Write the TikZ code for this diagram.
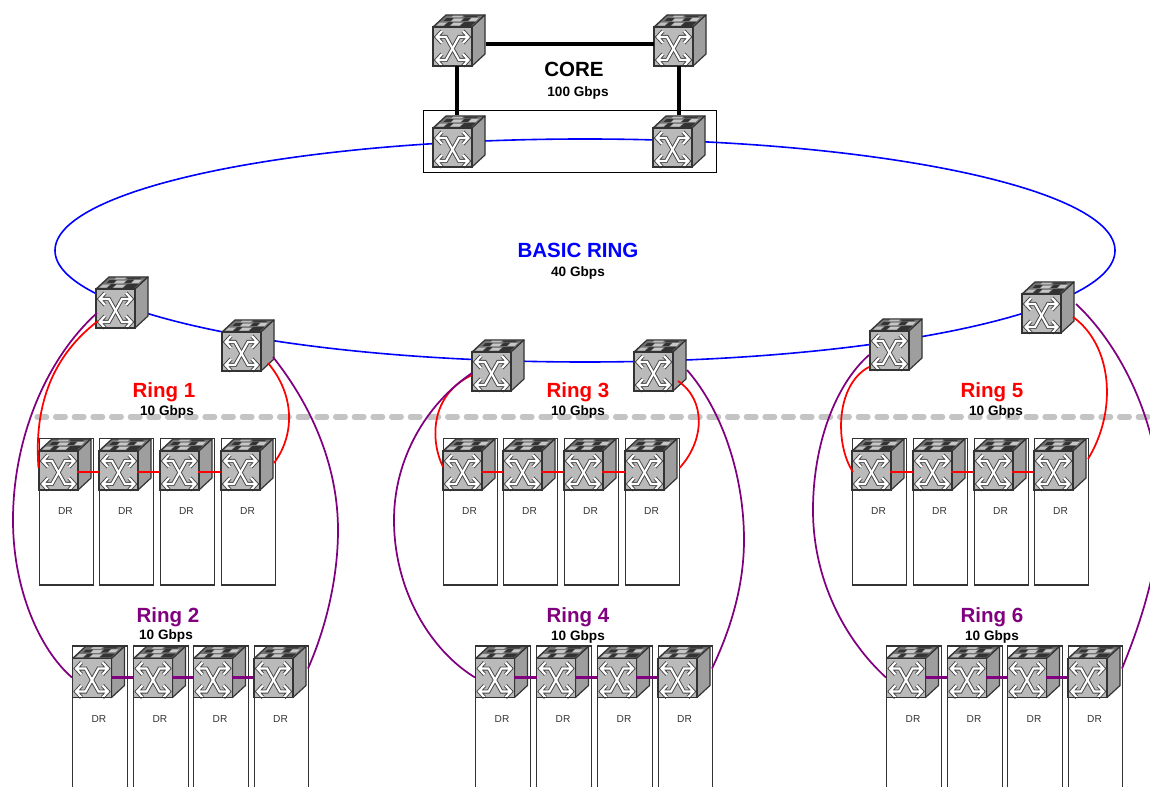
\documentclass[tikz,border=0pt]{standalone}
\usepackage{fontspec}
\setmainfont{Liberation Sans}
\usetikzlibrary{shapes.geometric}
\definecolor{ringpurple}{HTML}{800080}
\definecolor{dashgrey}{HTML}{C4C4C4}
\definecolor{edgegrey}{HTML}{333333}
\tikzset{
  redlink/.style={draw=red,line width=1.3pt},
  purplelink/.style={draw=ringpurple,line width=1.3pt},
  redbar/.style={draw=red,line width=1.7pt},
  purplebar/.style={draw=ringpurple,line width=1.7pt},
  corelink/.style={draw=black,line width=3pt},
  drbox/.style={draw=edgegrey,fill=white,line width=0.9pt,inner sep=0,anchor=north west},
  drlabel/.style={font=\fontsize{7.6}{9}\selectfont,text=edgegrey},
  bigtext/.style={font=\fontsize{15.4}{18}\selectfont\bfseries},
  speedtext/.style={font=\fontsize{10.2}{12}\selectfont\bfseries,text=black},
  swanchor/.style={inner sep=0,outer sep=0,minimum size=29.25pt,anchor=north west},
}
\newcommand{\tp}[5]{\fill[#5] ({#1+13*#3},{-12*#3}) -- ({#2+13*#3},{-12*#3}) -- ({#2+13*#4},{-12*#4}) -- ({#1+13*#4},{-12*#4}) -- cycle;}
\newcommand{\sw}[3]{%
  \node[swanchor] (#1) at (#2,#3) {};
  \begin{scope}[shift={(#2,#3)}]
    \filldraw[fill=black!55,draw=edgegrey,line width=0.9pt,line join=round] (0,0) -- (13,-12) -- (52,-12) -- (39,0) -- cycle;
    \tp{2}{9}{.12}{.36}{black!25}
    \tp{10}{15}{.08}{.4}{black!80}
    \tp{16}{25}{.12}{.34}{black!22}
    \tp{26}{37}{.1}{.4}{black!80}
    \tp{4}{11}{.5}{.74}{black!80}
    \tp{12}{21}{.46}{.7}{black!22}
    \tp{22}{28}{.5}{.78}{black!80}
    \tp{29}{36}{.52}{.76}{black!22}
    \tp{8}{18}{.8}{.94}{black!25}
    \tp{20}{33}{.82}{.94}{black!78}
    \filldraw[fill=black!38,draw=edgegrey,line width=0.9pt,line join=round] (39,0) -- (52,-12) -- (52,27) -- (39,39) -- cycle;
    \filldraw[fill=black!27,draw=edgegrey,line width=0.9pt] (0,0) rectangle (39,39);
    \foreach \wd/\col in {3pt/black!72,1.6pt/white}{
      \draw[line width=\wd,draw=\col,line join=miter] (9,4) -- (3.5,10) -- (9,16) (3.5,10) -- (13,10) -- (26,33) -- (35.5,33) (30,27) -- (35.5,33) -- (30,39);
      \draw[line width=\wd,draw=\col,line join=miter] (9,27) -- (3.5,33) -- (9,39) (3.5,33) -- (13,33) -- (26,10) -- (35.5,10) (30,4) -- (35.5,10) -- (30,16);
    }
    \draw[edgegrey,line width=0.9pt] (0,0) rectangle (39,39);
  \end{scope}
}
% #1 group id, #2 four box x positions, #3 top of box, #4 height, #5 label y
\newcommand{\rackrow}[5]{%
  \foreach \bx [count=\ii] in {#2}{
    \node[drbox,minimum width=41pt,minimum height=#4*0.75pt] (b#1\ii) at (\bx,#3) {};
    \node[drlabel] (d#1\ii) at (\bx+27,#5) {DR};
    \sw{u#1\ii}{\bx+0.5}{#3+13}
  }
}
\newcommand{\at}[3]{([shift={(#2,#3)}]#1.north west)}
\begin{document}
\begin{tikzpicture}[x=0.75pt,y=-0.75pt]
\useasboundingbox (0,0) rectangle (1150,787);
\clip (0,0) rectangle (1150,787);
\fill[white] (0,0) rectangle (1150,787);

% core frame and basic ring
\node[draw=black,line width=0.7pt,inner sep=0,minimum width=219.75pt,minimum height=46.9pt] (frame) at (570,141.25) {};
\node[ellipse,draw=blue,line width=1.2pt,inner sep=0,outer sep=0,minimum width=795pt,minimum height=167.25pt] (basic) at (585,250.5) {};

% dashed separator
\coordinate (dashL) at (37,417);
\coordinate (dashR) at (1152,417);
\draw[dashgrey,line width=4pt,line cap=round,dash pattern=on 7.2pt off 6.8pt] (dashL) -- (dashR);

% switches
\sw{c1}{433}{27}
\sw{c2}{654}{27}
\sw{c3}{433}{128}
\sw{c4}{653}{128}
\sw{s1}{96}{289}
\sw{s2}{222}{332}
\sw{s3}{472}{352}
\sw{s4}{634}{352}
\sw{s5}{870}{331}
\sw{s6}{1022}{294}

\rackrow{1}{38.5,98.5,159.5,220.5}{438}{146.5}{511}
\rackrow{3}{442.5,502.5,563.5,624.5}{438}{146.5}{511}
\rackrow{5}{851.5,912.5,973.5,1033.5}{438}{146.5}{511}
\rackrow{2}{72,133,193,253.5}{645.5}{170}{719}
\rackrow{4}{475,536,597,657.5}{645.5}{170}{719}
\rackrow{6}{886,947,1007,1067.5}{645.5}{170}{719}

% core links
\draw[corelink] \at{c1}{53}{17} -- \at{c2}{0}{17};
\draw[corelink] \at{c1}{24}{39} -- \at{c3}{24}{-13};
\draw[corelink] \at{c2}{24.5}{39} -- \at{c4}{25.5}{-13};

% ring 1
\draw[redlink] \at{s1}{2}{32} .. controls (60,350) and (33,395) .. \at{u11}{-0.5}{17};
\draw[redlink] \at{s2}{46}{31} .. controls (295,395) and (295,435) .. \at{u14}{53}{12};
\foreach \a/\b in {1/2,2/3,3/4}{\draw[redbar] \at{u1\a}{38}{21} -- \at{u1\b}{0}{21};}
% ring 2
\draw[purplelink] \at{s1}{1}{24} .. controls (45,360) and (13,440) .. (13,520) .. controls (13,590) and (40,650) .. \at{u21}{-0.5}{19};
\draw[purplelink] \at{s2}{51}{25} .. controls (315,410) and (338,470) .. (338,530) .. controls (338,580) and (325,630) .. \at{u24}{54}{10};
\foreach \a/\b in {1/2,2/3,3/4}{\draw[purplebar] \at{u2\a}{38}{19} -- \at{u2\b}{0}{19};}
% ring 3
\draw[redlink] \at{s3}{0}{23} .. controls (430,395) and (430,440) .. \at{u31}{0}{16};
\draw[redlink] \at{s4}{44}{29} .. controls (706,400) and (705,440) .. \at{u34}{54.5}{17};
\foreach \a/\b in {1/2,2/3,3/4}{\draw[redbar] \at{u3\a}{38}{21} -- \at{u3\b}{0}{21};}
% ring 4
\draw[purplelink] \at{s3}{0}{21} .. controls (425,405) and (394,460) .. (394,520) .. controls (394,590) and (430,650) .. \at{u41}{-0.5}{19};
\draw[purplelink] \at{s4}{53}{18} .. controls (722,410) and (744,475) .. (744,540) .. controls (744,590) and (728,635) .. \at{u44}{54}{10};
\foreach \a/\b in {1/2,2/3,3/4}{\draw[purplebar] \at{u4\a}{38}{19} -- \at{u4\b}{0}{19};}
% ring 5
\draw[redlink] \at{s5}{-1}{36} .. controls (835,385) and (835,445) .. \at{u51}{1}{21};
\draw[redlink] \at{s6}{51}{23} .. controls (1112,345) and (1118,410) .. \at{u54}{54}{8};
\foreach \a/\b in {1/2,2/3,3/4}{\draw[redbar] \at{u5\a}{38}{21} -- \at{u5\b}{0}{21};}
% ring 6
\draw[purplelink] \at{s5}{-1}{24} .. controls (835,385) and (813,445) .. (813,510) .. controls (813,580) and (845,640) .. \at{u61}{-0.5}{19};
\draw[purplelink] \at{s6}{54}{10} .. controls (1120,345) and (1158,420) .. (1160,500) .. controls (1162,560) and (1140,625) .. \at{u64}{54}{10};
\foreach \a/\b in {1/2,2/3,3/4}{\draw[purplebar] \at{u6\a}{38}{19} -- \at{u6\b}{0}{19};}

% labels
\node[bigtext,text=black] (tcore) at (574,69) {CORE};
\node[speedtext] (score) at (578,93) {100 Gbps};
\node[bigtext,text=blue] (tbasic) at (578,250) {BASIC RING};
\node[speedtext] (sbasic) at (578,273) {40 Gbps};
\node[bigtext,text=red] (tr1) at (164,392) {Ring 1};
\node[speedtext] (sr1) at (167,412) {10 Gbps};
\node[bigtext,text=red] (tr3) at (578,392) {Ring 3};
\node[speedtext] (sr3) at (578,412) {10 Gbps};
\node[bigtext,text=red] (tr5) at (992,392) {Ring 5};
\node[speedtext] (sr5) at (996,412) {10 Gbps};
\node[bigtext,text=ringpurple] (tr2) at (168,617) {Ring 2};
\node[speedtext] (sr2) at (166,636) {10 Gbps};
\node[bigtext,text=ringpurple] (tr4) at (578,617) {Ring 4};
\node[speedtext] (sr4) at (578,637) {10 Gbps};
\node[bigtext,text=ringpurple] (tr6) at (992,617) {Ring 6};
\node[speedtext] (sr6) at (992,637) {10 Gbps};
\end{tikzpicture}
\end{document}
